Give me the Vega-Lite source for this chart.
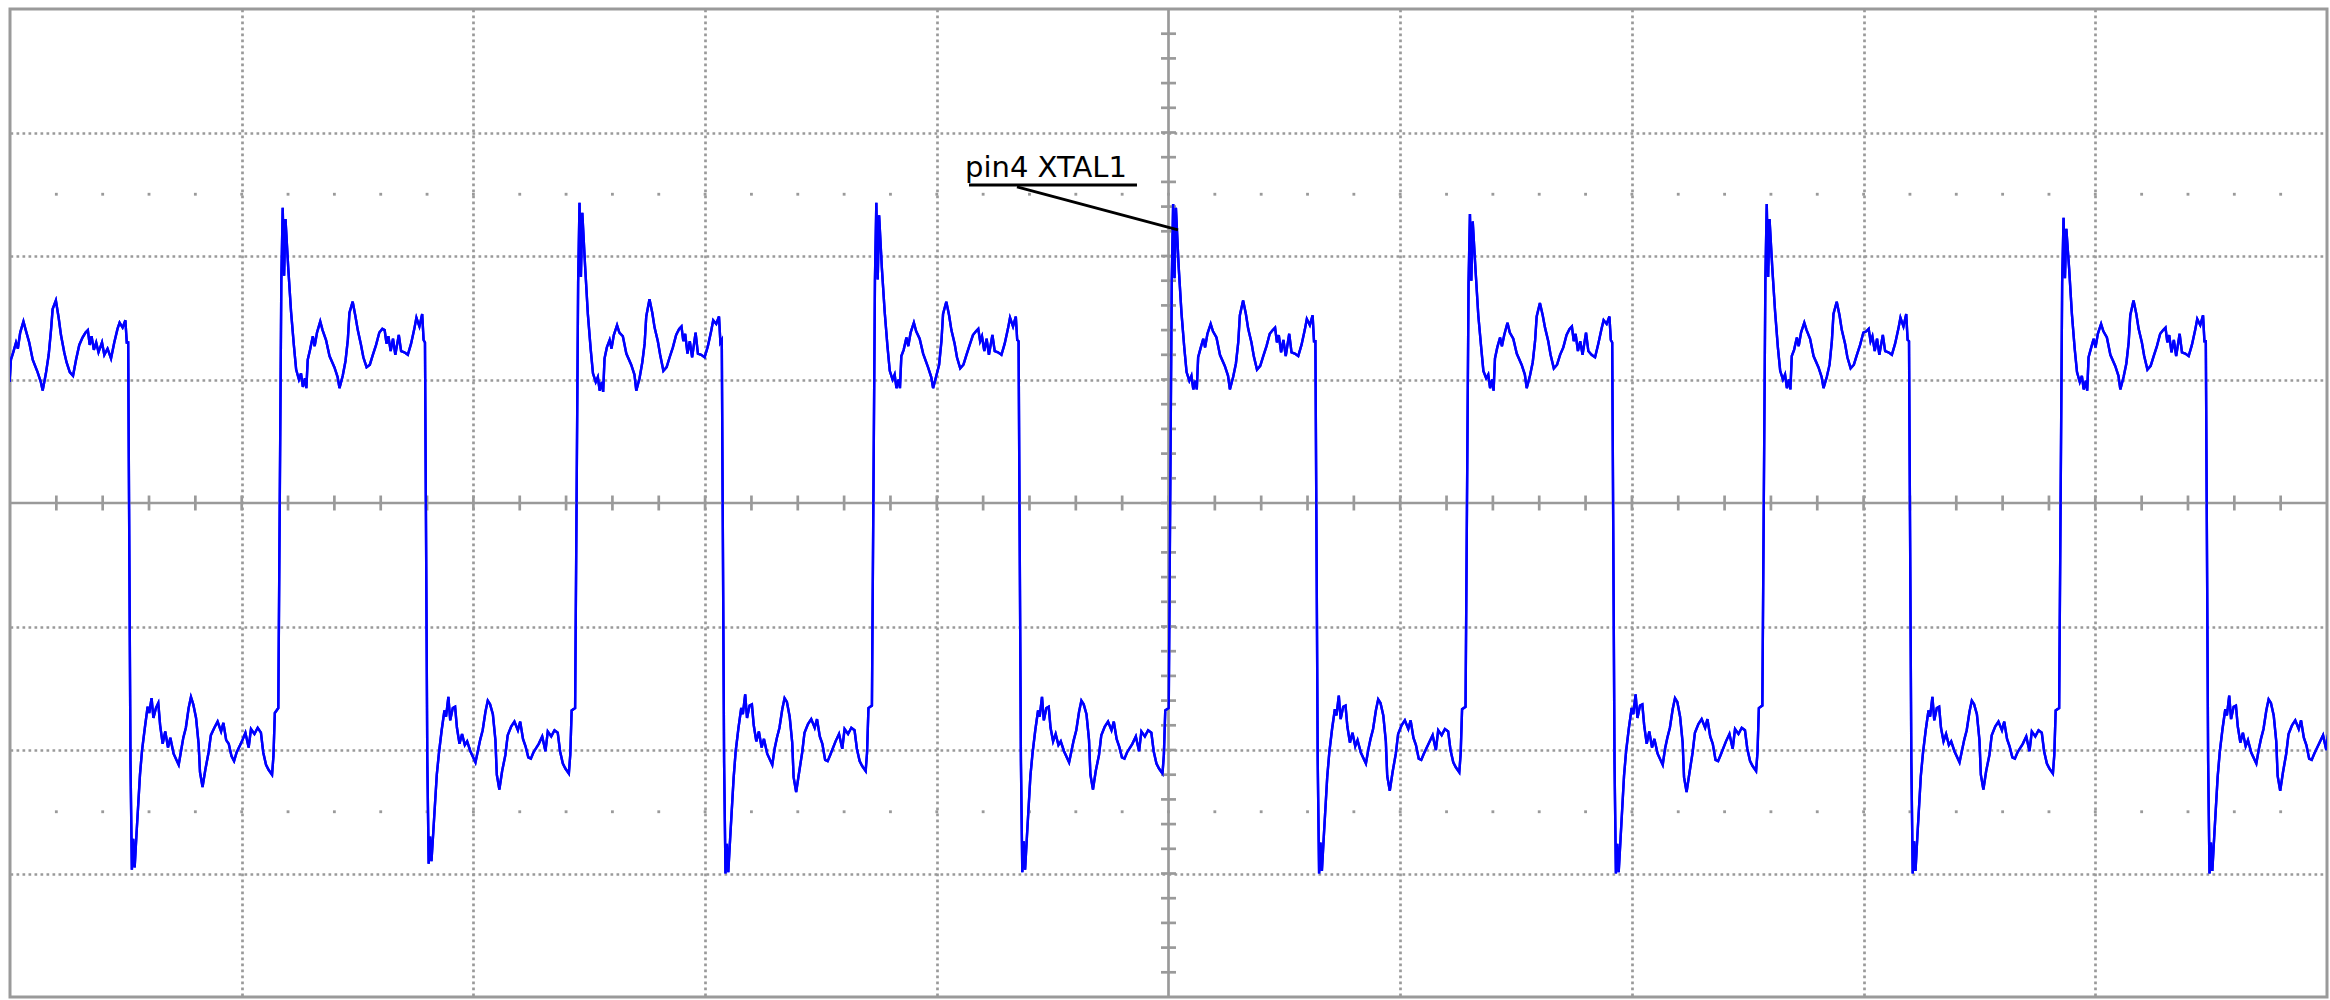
{
"$schema": "https://vega.github.io/schema/vega-lite/v6.json",
"width": 2317, "height": 988,
"autosize": {"type": "none"},
"padding": {"left": 10, "top": 9, "right": 3, "bottom": 3},
"background": "white",
"config": {"view": {"stroke": "#9a9a9a", "strokeWidth": 3}},
"datasets": {
"ticks": [{"v":-4.8},{"v":-4.6},{"v":-4.4},{"v":-4.2},{"v":-4},{"v":-3.8},{"v":-3.6},{"v":-3.4},{"v":-3.2},{"v":-3},{"v":-2.8},{"v":-2.6},{"v":-2.4},{"v":-2.2},{"v":-2},{"v":-1.8},{"v":-1.6},{"v":-1.4},{"v":-1.2},{"v":-1},{"v":-0.8},{"v":-0.6},{"v":-0.4},{"v":-0.2},{"v":0},{"v":0.2},{"v":0.4},{"v":0.6},{"v":0.8},{"v":1},{"v":1.2},{"v":1.4},{"v":1.6},{"v":1.8},{"v":2},{"v":2.2},{"v":2.4},{"v":2.6},{"v":2.8},{"v":3},{"v":3.2},{"v":3.4},{"v":3.6},{"v":3.8},{"v":4},{"v":4.2},{"v":4.4},{"v":4.6},{"v":4.8}],
"label": [{"x":-0.878,"y":2.642,"t":"pin4 XTAL1"}],
"leader": [{"x":-0.861,"y":2.575,"x2":-0.136,"y2":2.575},{"x":-0.654,"y":2.559,"x2":0.041,"y2":2.211}],
"wave": [
{"x":-5.017,"y":0.95},{"x":-5.008,"y":1.12},{"x":-5.002,"y":0.98},{"x":-4.996,"y":1.16},{"x":-4.986,"y":1.22},{"x":-4.974,"y":1.30},{"x":-4.966,"y":1.25},{"x":-4.956,"y":1.38},{"x":-4.942,"y":1.47},{"x":-4.932,"y":1.40},{"x":-4.917,"y":1.30},{"x":-4.902,"y":1.16},{"x":-4.881,"y":1.06},{"x":-4.867,"y":0.98},{"x":-4.859,"y":0.91},{"x":-4.845,"y":1.05},{"x":-4.833,"y":1.20},{"x":-4.823,"y":1.40},{"x":-4.816,"y":1.57},{"x":-4.802,"y":1.64},{"x":-4.790,"y":1.50},{"x":-4.780,"y":1.36},{"x":-4.766,"y":1.22},{"x":-4.756,"y":1.14},{"x":-4.742,"y":1.06},{"x":-4.728,"y":1.03},{"x":-4.715,"y":1.16},{"x":-4.701,"y":1.28},{"x":-4.687,"y":1.34},{"x":-4.674,"y":1.38},{"x":-4.664,"y":1.40},{"x":-4.656,"y":1.28},{"x":-4.648,"y":1.35},{"x":-4.638,"y":1.24},{"x":-4.628,"y":1.30},{"x":-4.618,"y":1.22},{"x":-4.603,"y":1.30},{"x":-4.593,"y":1.20},{"x":-4.579,"y":1.25},{"x":-4.564,"y":1.17},{"x":-4.550,"y":1.30},{"x":-4.536,"y":1.41},{"x":-4.527,"y":1.46},{"x":-4.514,"y":1.42},{"x":-4.502,"y":1.48},{"x":-4.496,"y":1.30},{"x":-4.490,"y":1.30},
{"x":-4.480,"y":-2.09},{"x":-4.474,"y":-2.97},{"x":-4.468,"y":-2.72},{"x":-4.462,"y":-2.95},{"x":-4.454,"y":-2.68},{"x":-4.439,"y":-2.20},{"x":-4.430,"y":-2.00},{"x":-4.418,"y":-1.82},{"x":-4.406,"y":-1.65},{"x":-4.399,"y":-1.70},{"x":-4.389,"y":-1.58},{"x":-4.381,"y":-1.74},{"x":-4.370,"y":-1.66},{"x":-4.360,"y":-1.62},{"x":-4.352,"y":-1.80},{"x":-4.341,"y":-1.95},{"x":-4.330,"y":-1.85},{"x":-4.318,"y":-1.98},{"x":-4.308,"y":-1.90},{"x":-4.294,"y":-2.03},{"x":-4.272,"y":-2.12},{"x":-4.262,"y":-2.01},{"x":-4.252,"y":-1.90},{"x":-4.241,"y":-1.82},{"x":-4.229,"y":-1.66},{"x":-4.219,"y":-1.57},{"x":-4.209,"y":-1.63},{"x":-4.197,"y":-1.74},{"x":-4.186,"y":-1.95},{"x":-4.180,"y":-2.18},{"x":-4.169,"y":-2.30},{"x":-4.157,"y":-2.16},{"x":-4.143,"y":-2.02},{"x":-4.133,"y":-1.88},{"x":-4.118,"y":-1.82},{"x":-4.104,"y":-1.77},{"x":-4.089,"y":-1.85},{"x":-4.079,"y":-1.78},{"x":-4.067,"y":-1.92},{"x":-4.056,"y":-1.95},{"x":-4.044,"y":-2.05},{"x":-4.033,"y":-2.09},{"x":-4.022,"y":-2.02},{"x":-3.999,"y":-1.93},{"x":-3.984,"y":-1.86},{"x":-3.970,"y":-1.98},{"x":-3.960,"y":-1.83},{"x":-3.945,"y":-1.87},{"x":-3.931,"y":-1.82},{"x":-3.917,"y":-1.86},{"x":-3.907,"y":-2.02},{"x":-3.895,"y":-2.12},{"x":-3.884,"y":-2.16},{"x":-3.869,"y":-2.20},{"x":-3.863,"y":-2.05},{"x":-3.857,"y":-1.70},{"x":-3.842,"y":-1.66},
{"x":-3.829,"y":1.80},{"x":-3.823,"y":2.39},{"x":-3.817,"y":1.84},{"x":-3.811,"y":2.30},{"x":-3.799,"y":1.90},{"x":-3.787,"y":1.55},{"x":-3.775,"y":1.28},{"x":-3.765,"y":1.08},{"x":-3.753,"y":1.00},{"x":-3.744,"y":1.05},{"x":-3.736,"y":0.94},{"x":-3.727,"y":1.01},{"x":-3.721,"y":0.93},{"x":-3.715,"y":1.16},{"x":-3.705,"y":1.24},{"x":-3.693,"y":1.35},{"x":-3.685,"y":1.27},{"x":-3.675,"y":1.38},{"x":-3.661,"y":1.47},{"x":-3.651,"y":1.40},{"x":-3.636,"y":1.32},{"x":-3.621,"y":1.19},{"x":-3.600,"y":1.10},{"x":-3.586,"y":1.02},{"x":-3.578,"y":0.93},{"x":-3.564,"y":1.03},{"x":-3.552,"y":1.15},{"x":-3.542,"y":1.32},{"x":-3.535,"y":1.54},{"x":-3.521,"y":1.63},{"x":-3.509,"y":1.51},{"x":-3.499,"y":1.40},{"x":-3.485,"y":1.28},{"x":-3.475,"y":1.18},{"x":-3.461,"y":1.10},{"x":-3.447,"y":1.12},{"x":-3.434,"y":1.20},{"x":-3.420,"y":1.28},{"x":-3.406,"y":1.38},{"x":-3.393,"y":1.41},{"x":-3.383,"y":1.40},{"x":-3.375,"y":1.29},{"x":-3.367,"y":1.35},{"x":-3.357,"y":1.23},{"x":-3.347,"y":1.33},{"x":-3.337,"y":1.20},{"x":-3.322,"y":1.36},{"x":-3.312,"y":1.23},{"x":-3.298,"y":1.22},{"x":-3.283,"y":1.20},{"x":-3.269,"y":1.29},{"x":-3.255,"y":1.41},{"x":-3.246,"y":1.50},{"x":-3.233,"y":1.43},{"x":-3.221,"y":1.53},{"x":-3.215,"y":1.32},{"x":-3.209,"y":1.30},
{"x":-3.199,"y":-2.07},{"x":-3.193,"y":-2.92},{"x":-3.187,"y":-2.70},{"x":-3.181,"y":-2.90},{"x":-3.173,"y":-2.66},{"x":-3.158,"y":-2.20},{"x":-3.149,"y":-2.03},{"x":-3.137,"y":-1.84},{"x":-3.125,"y":-1.68},{"x":-3.118,"y":-1.73},{"x":-3.108,"y":-1.57},{"x":-3.100,"y":-1.76},{"x":-3.089,"y":-1.66},{"x":-3.079,"y":-1.65},{"x":-3.071,"y":-1.82},{"x":-3.060,"y":-1.95},{"x":-3.049,"y":-1.87},{"x":-3.037,"y":-1.96},{"x":-3.027,"y":-1.93},{"x":-3.013,"y":-2.01},{"x":-2.991,"y":-2.10},{"x":-2.981,"y":-2.01},{"x":-2.971,"y":-1.92},{"x":-2.960,"y":-1.84},{"x":-2.948,"y":-1.69},{"x":-2.938,"y":-1.60},{"x":-2.928,"y":-1.63},{"x":-2.916,"y":-1.71},{"x":-2.905,"y":-1.92},{"x":-2.899,"y":-2.20},{"x":-2.888,"y":-2.32},{"x":-2.876,"y":-2.17},{"x":-2.862,"y":-2.04},{"x":-2.852,"y":-1.88},{"x":-2.837,"y":-1.81},{"x":-2.823,"y":-1.77},{"x":-2.808,"y":-1.84},{"x":-2.798,"y":-1.77},{"x":-2.786,"y":-1.91},{"x":-2.775,"y":-1.97},{"x":-2.763,"y":-2.06},{"x":-2.752,"y":-2.07},{"x":-2.741,"y":-2.02},{"x":-2.718,"y":-1.95},{"x":-2.703,"y":-1.89},{"x":-2.689,"y":-2.01},{"x":-2.679,"y":-1.85},{"x":-2.664,"y":-1.89},{"x":-2.650,"y":-1.84},{"x":-2.636,"y":-1.86},{"x":-2.626,"y":-2.01},{"x":-2.614,"y":-2.11},{"x":-2.603,"y":-2.15},{"x":-2.588,"y":-2.19},{"x":-2.582,"y":-2.04},{"x":-2.576,"y":-1.68},{"x":-2.561,"y":-1.66},
{"x":-2.548,"y":1.78},{"x":-2.542,"y":2.43},{"x":-2.536,"y":1.83},{"x":-2.530,"y":2.35},{"x":-2.518,"y":1.92},{"x":-2.506,"y":1.53},{"x":-2.494,"y":1.25},{"x":-2.484,"y":1.05},{"x":-2.472,"y":0.98},{"x":-2.463,"y":1.02},{"x":-2.455,"y":0.91},{"x":-2.446,"y":0.98},{"x":-2.440,"y":0.90},{"x":-2.434,"y":1.17},{"x":-2.424,"y":1.26},{"x":-2.412,"y":1.32},{"x":-2.404,"y":1.25},{"x":-2.394,"y":1.36},{"x":-2.380,"y":1.44},{"x":-2.370,"y":1.38},{"x":-2.355,"y":1.35},{"x":-2.340,"y":1.21},{"x":-2.319,"y":1.12},{"x":-2.305,"y":1.04},{"x":-2.297,"y":0.91},{"x":-2.283,"y":1.01},{"x":-2.271,"y":1.14},{"x":-2.261,"y":1.29},{"x":-2.254,"y":1.51},{"x":-2.240,"y":1.65},{"x":-2.228,"y":1.54},{"x":-2.218,"y":1.42},{"x":-2.204,"y":1.31},{"x":-2.194,"y":1.20},{"x":-2.180,"y":1.07},{"x":-2.166,"y":1.10},{"x":-2.153,"y":1.18},{"x":-2.139,"y":1.26},{"x":-2.125,"y":1.36},{"x":-2.112,"y":1.41},{"x":-2.102,"y":1.43},{"x":-2.094,"y":1.31},{"x":-2.086,"y":1.37},{"x":-2.076,"y":1.21},{"x":-2.066,"y":1.31},{"x":-2.056,"y":1.18},{"x":-2.041,"y":1.38},{"x":-2.031,"y":1.21},{"x":-2.017,"y":1.20},{"x":-2.002,"y":1.18},{"x":-1.988,"y":1.27},{"x":-1.974,"y":1.39},{"x":-1.965,"y":1.48},{"x":-1.952,"y":1.45},{"x":-1.940,"y":1.51},{"x":-1.934,"y":1.30},{"x":-1.928,"y":1.32},
{"x":-1.918,"y":-2.10},{"x":-1.912,"y":-3.00},{"x":-1.906,"y":-2.76},{"x":-1.900,"y":-2.99},{"x":-1.892,"y":-2.72},{"x":-1.877,"y":-2.23},{"x":-1.868,"y":-2.01},{"x":-1.856,"y":-1.82},{"x":-1.844,"y":-1.66},{"x":-1.837,"y":-1.71},{"x":-1.827,"y":-1.55},{"x":-1.819,"y":-1.74},{"x":-1.808,"y":-1.64},{"x":-1.798,"y":-1.63},{"x":-1.790,"y":-1.80},{"x":-1.779,"y":-1.93},{"x":-1.768,"y":-1.85},{"x":-1.756,"y":-1.98},{"x":-1.746,"y":-1.91},{"x":-1.732,"y":-2.03},{"x":-1.710,"y":-2.12},{"x":-1.700,"y":-1.99},{"x":-1.690,"y":-1.90},{"x":-1.679,"y":-1.82},{"x":-1.667,"y":-1.67},{"x":-1.657,"y":-1.58},{"x":-1.647,"y":-1.61},{"x":-1.635,"y":-1.73},{"x":-1.624,"y":-1.94},{"x":-1.618,"y":-2.22},{"x":-1.607,"y":-2.34},{"x":-1.595,"y":-2.19},{"x":-1.581,"y":-2.02},{"x":-1.571,"y":-1.86},{"x":-1.556,"y":-1.79},{"x":-1.542,"y":-1.75},{"x":-1.527,"y":-1.82},{"x":-1.517,"y":-1.75},{"x":-1.505,"y":-1.89},{"x":-1.494,"y":-1.95},{"x":-1.482,"y":-2.08},{"x":-1.471,"y":-2.09},{"x":-1.460,"y":-2.04},{"x":-1.437,"y":-1.93},{"x":-1.422,"y":-1.87},{"x":-1.408,"y":-1.99},{"x":-1.398,"y":-1.83},{"x":-1.383,"y":-1.87},{"x":-1.369,"y":-1.82},{"x":-1.355,"y":-1.84},{"x":-1.345,"y":-1.99},{"x":-1.333,"y":-2.09},{"x":-1.322,"y":-2.13},{"x":-1.307,"y":-2.17},{"x":-1.301,"y":-2.02},{"x":-1.295,"y":-1.66},{"x":-1.280,"y":-1.64},
{"x":-1.267,"y":1.80},{"x":-1.261,"y":2.43},{"x":-1.255,"y":1.81},{"x":-1.249,"y":2.33},{"x":-1.237,"y":1.90},{"x":-1.225,"y":1.55},{"x":-1.213,"y":1.27},{"x":-1.203,"y":1.07},{"x":-1.191,"y":1.00},{"x":-1.182,"y":1.04},{"x":-1.174,"y":0.93},{"x":-1.165,"y":1.00},{"x":-1.159,"y":0.93},{"x":-1.153,"y":1.19},{"x":-1.143,"y":1.24},{"x":-1.131,"y":1.34},{"x":-1.123,"y":1.27},{"x":-1.113,"y":1.38},{"x":-1.099,"y":1.46},{"x":-1.089,"y":1.39},{"x":-1.074,"y":1.33},{"x":-1.059,"y":1.21},{"x":-1.038,"y":1.10},{"x":-1.024,"y":1.02},{"x":-1.016,"y":0.93},{"x":-1.002,"y":1.03},{"x":-0.990,"y":1.12},{"x":-0.980,"y":1.31},{"x":-0.973,"y":1.53},{"x":-0.959,"y":1.63},{"x":-0.947,"y":1.52},{"x":-0.937,"y":1.40},{"x":-0.923,"y":1.29},{"x":-0.913,"y":1.18},{"x":-0.899,"y":1.09},{"x":-0.885,"y":1.12},{"x":-0.872,"y":1.20},{"x":-0.858,"y":1.28},{"x":-0.844,"y":1.36},{"x":-0.831,"y":1.39},{"x":-0.821,"y":1.41},{"x":-0.813,"y":1.31},{"x":-0.805,"y":1.35},{"x":-0.795,"y":1.23},{"x":-0.785,"y":1.33},{"x":-0.775,"y":1.20},{"x":-0.760,"y":1.36},{"x":-0.750,"y":1.23},{"x":-0.736,"y":1.22},{"x":-0.721,"y":1.20},{"x":-0.707,"y":1.29},{"x":-0.693,"y":1.41},{"x":-0.684,"y":1.50},{"x":-0.671,"y":1.43},{"x":-0.659,"y":1.51},{"x":-0.653,"y":1.32},{"x":-0.647,"y":1.31},
{"x":-0.637,"y":-2.08},{"x":-0.631,"y":-2.99},{"x":-0.625,"y":-2.74},{"x":-0.619,"y":-2.97},{"x":-0.611,"y":-2.70},{"x":-0.596,"y":-2.21},{"x":-0.587,"y":-2.03},{"x":-0.575,"y":-1.84},{"x":-0.563,"y":-1.68},{"x":-0.556,"y":-1.73},{"x":-0.546,"y":-1.57},{"x":-0.538,"y":-1.76},{"x":-0.527,"y":-1.66},{"x":-0.517,"y":-1.65},{"x":-0.509,"y":-1.82},{"x":-0.498,"y":-1.93},{"x":-0.487,"y":-1.87},{"x":-0.475,"y":-1.96},{"x":-0.465,"y":-1.93},{"x":-0.451,"y":-2.01},{"x":-0.429,"y":-2.10},{"x":-0.419,"y":-2.01},{"x":-0.409,"y":-1.92},{"x":-0.398,"y":-1.84},{"x":-0.386,"y":-1.69},{"x":-0.376,"y":-1.60},{"x":-0.366,"y":-1.63},{"x":-0.354,"y":-1.71},{"x":-0.343,"y":-1.92},{"x":-0.337,"y":-2.20},{"x":-0.326,"y":-2.32},{"x":-0.314,"y":-2.17},{"x":-0.300,"y":-2.04},{"x":-0.290,"y":-1.88},{"x":-0.275,"y":-1.81},{"x":-0.261,"y":-1.77},{"x":-0.246,"y":-1.84},{"x":-0.236,"y":-1.77},{"x":-0.224,"y":-1.91},{"x":-0.213,"y":-1.97},{"x":-0.201,"y":-2.06},{"x":-0.190,"y":-2.07},{"x":-0.179,"y":-2.02},{"x":-0.156,"y":-1.95},{"x":-0.141,"y":-1.89},{"x":-0.127,"y":-2.01},{"x":-0.117,"y":-1.85},{"x":-0.102,"y":-1.89},{"x":-0.088,"y":-1.84},{"x":-0.074,"y":-1.86},{"x":-0.064,"y":-2.01},{"x":-0.052,"y":-2.11},{"x":-0.041,"y":-2.15},{"x":-0.026,"y":-2.19},{"x":-0.020,"y":-2.04},{"x":-0.014,"y":-1.68},{"x":0.001,"y":-1.66},
{"x":0.014,"y":1.79},{"x":0.020,"y":2.42},{"x":0.026,"y":1.82},{"x":0.032,"y":2.39},{"x":0.044,"y":1.91},{"x":0.056,"y":1.54},{"x":0.068,"y":1.26},{"x":0.078,"y":1.06},{"x":0.090,"y":0.99},{"x":0.099,"y":1.03},{"x":0.107,"y":0.92},{"x":0.116,"y":0.99},{"x":0.122,"y":0.92},{"x":0.128,"y":1.18},{"x":0.138,"y":1.25},{"x":0.150,"y":1.33},{"x":0.158,"y":1.26},{"x":0.168,"y":1.37},{"x":0.182,"y":1.45},{"x":0.192,"y":1.39},{"x":0.207,"y":1.34},{"x":0.222,"y":1.20},{"x":0.243,"y":1.11},{"x":0.257,"y":1.03},{"x":0.265,"y":0.92},{"x":0.279,"y":1.02},{"x":0.291,"y":1.13},{"x":0.301,"y":1.30},{"x":0.308,"y":1.52},{"x":0.322,"y":1.64},{"x":0.334,"y":1.53},{"x":0.344,"y":1.41},{"x":0.358,"y":1.30},{"x":0.368,"y":1.19},{"x":0.382,"y":1.08},{"x":0.396,"y":1.11},{"x":0.409,"y":1.19},{"x":0.423,"y":1.27},{"x":0.437,"y":1.37},{"x":0.450,"y":1.40},{"x":0.460,"y":1.42},{"x":0.468,"y":1.30},{"x":0.476,"y":1.36},{"x":0.486,"y":1.22},{"x":0.496,"y":1.32},{"x":0.506,"y":1.19},{"x":0.521,"y":1.37},{"x":0.531,"y":1.22},{"x":0.545,"y":1.21},{"x":0.560,"y":1.19},{"x":0.574,"y":1.28},{"x":0.588,"y":1.40},{"x":0.597,"y":1.49},{"x":0.610,"y":1.44},{"x":0.622,"y":1.52},{"x":0.628,"y":1.31},{"x":0.634,"y":1.31},
{"x":0.644,"y":-2.09},{"x":0.650,"y":-3.00},{"x":0.656,"y":-2.75},{"x":0.662,"y":-2.98},{"x":0.670,"y":-2.71},{"x":0.685,"y":-2.22},{"x":0.694,"y":-2.02},{"x":0.706,"y":-1.83},{"x":0.718,"y":-1.67},{"x":0.725,"y":-1.72},{"x":0.735,"y":-1.56},{"x":0.743,"y":-1.75},{"x":0.754,"y":-1.65},{"x":0.764,"y":-1.64},{"x":0.772,"y":-1.81},{"x":0.783,"y":-1.94},{"x":0.794,"y":-1.86},{"x":0.806,"y":-1.97},{"x":0.816,"y":-1.92},{"x":0.830,"y":-2.02},{"x":0.852,"y":-2.11},{"x":0.862,"y":-2.00},{"x":0.872,"y":-1.91},{"x":0.883,"y":-1.83},{"x":0.895,"y":-1.68},{"x":0.905,"y":-1.59},{"x":0.915,"y":-1.62},{"x":0.927,"y":-1.72},{"x":0.938,"y":-1.93},{"x":0.944,"y":-2.21},{"x":0.955,"y":-2.33},{"x":0.967,"y":-2.18},{"x":0.981,"y":-2.03},{"x":0.991,"y":-1.87},{"x":1.006,"y":-1.80},{"x":1.020,"y":-1.76},{"x":1.035,"y":-1.83},{"x":1.045,"y":-1.76},{"x":1.057,"y":-1.90},{"x":1.068,"y":-1.96},{"x":1.080,"y":-2.07},{"x":1.091,"y":-2.08},{"x":1.102,"y":-2.03},{"x":1.125,"y":-1.94},{"x":1.140,"y":-1.88},{"x":1.154,"y":-2.00},{"x":1.164,"y":-1.84},{"x":1.179,"y":-1.88},{"x":1.193,"y":-1.83},{"x":1.207,"y":-1.85},{"x":1.217,"y":-2.00},{"x":1.229,"y":-2.10},{"x":1.240,"y":-2.14},{"x":1.255,"y":-2.18},{"x":1.261,"y":-2.03},{"x":1.267,"y":-1.67},{"x":1.282,"y":-1.65},
{"x":1.295,"y":1.78},{"x":1.301,"y":2.34},{"x":1.307,"y":1.80},{"x":1.313,"y":2.28},{"x":1.325,"y":1.89},{"x":1.337,"y":1.52},{"x":1.349,"y":1.27},{"x":1.359,"y":1.07},{"x":1.371,"y":1.01},{"x":1.380,"y":1.04},{"x":1.388,"y":0.93},{"x":1.397,"y":1.00},{"x":1.403,"y":0.91},{"x":1.409,"y":1.17},{"x":1.419,"y":1.26},{"x":1.431,"y":1.34},{"x":1.439,"y":1.27},{"x":1.449,"y":1.36},{"x":1.463,"y":1.46},{"x":1.473,"y":1.38},{"x":1.488,"y":1.33},{"x":1.503,"y":1.21},{"x":1.524,"y":1.12},{"x":1.538,"y":1.04},{"x":1.546,"y":0.93},{"x":1.560,"y":1.03},{"x":1.572,"y":1.14},{"x":1.582,"y":1.31},{"x":1.589,"y":1.51},{"x":1.603,"y":1.62},{"x":1.615,"y":1.52},{"x":1.625,"y":1.42},{"x":1.639,"y":1.31},{"x":1.649,"y":1.20},{"x":1.663,"y":1.09},{"x":1.677,"y":1.12},{"x":1.690,"y":1.20},{"x":1.704,"y":1.26},{"x":1.718,"y":1.36},{"x":1.731,"y":1.41},{"x":1.741,"y":1.43},{"x":1.749,"y":1.31},{"x":1.757,"y":1.37},{"x":1.767,"y":1.23},{"x":1.777,"y":1.31},{"x":1.787,"y":1.20},{"x":1.802,"y":1.38},{"x":1.812,"y":1.23},{"x":1.826,"y":1.20},{"x":1.841,"y":1.18},{"x":1.855,"y":1.29},{"x":1.869,"y":1.41},{"x":1.878,"y":1.48},{"x":1.891,"y":1.45},{"x":1.903,"y":1.51},{"x":1.909,"y":1.32},{"x":1.915,"y":1.30},
{"x":1.925,"y":-2.10},{"x":1.931,"y":-3.00},{"x":1.937,"y":-2.76},{"x":1.943,"y":-2.99},{"x":1.951,"y":-2.72},{"x":1.966,"y":-2.21},{"x":1.975,"y":-2.01},{"x":1.987,"y":-1.82},{"x":1.999,"y":-1.66},{"x":2.006,"y":-1.71},{"x":2.016,"y":-1.55},{"x":2.024,"y":-1.74},{"x":2.035,"y":-1.64},{"x":2.045,"y":-1.63},{"x":2.053,"y":-1.80},{"x":2.064,"y":-1.95},{"x":2.075,"y":-1.85},{"x":2.087,"y":-1.98},{"x":2.097,"y":-1.91},{"x":2.111,"y":-2.03},{"x":2.133,"y":-2.12},{"x":2.143,"y":-1.99},{"x":2.153,"y":-1.90},{"x":2.164,"y":-1.82},{"x":2.176,"y":-1.67},{"x":2.186,"y":-1.58},{"x":2.196,"y":-1.61},{"x":2.208,"y":-1.73},{"x":2.219,"y":-1.94},{"x":2.225,"y":-2.22},{"x":2.236,"y":-2.34},{"x":2.248,"y":-2.19},{"x":2.262,"y":-2.02},{"x":2.272,"y":-1.86},{"x":2.287,"y":-1.79},{"x":2.301,"y":-1.75},{"x":2.316,"y":-1.82},{"x":2.326,"y":-1.75},{"x":2.338,"y":-1.89},{"x":2.349,"y":-1.95},{"x":2.361,"y":-2.08},{"x":2.372,"y":-2.09},{"x":2.383,"y":-2.04},{"x":2.406,"y":-1.93},{"x":2.421,"y":-1.87},{"x":2.435,"y":-1.99},{"x":2.445,"y":-1.83},{"x":2.460,"y":-1.87},{"x":2.474,"y":-1.82},{"x":2.488,"y":-1.84},{"x":2.498,"y":-1.99},{"x":2.510,"y":-2.09},{"x":2.521,"y":-2.13},{"x":2.536,"y":-2.17},{"x":2.542,"y":-2.02},{"x":2.548,"y":-1.66},{"x":2.563,"y":-1.64},
{"x":2.576,"y":1.80},{"x":2.582,"y":2.42},{"x":2.588,"y":1.83},{"x":2.594,"y":2.30},{"x":2.606,"y":1.90},{"x":2.618,"y":1.55},{"x":2.630,"y":1.26},{"x":2.640,"y":1.07},{"x":2.652,"y":1.00},{"x":2.661,"y":1.04},{"x":2.669,"y":0.93},{"x":2.678,"y":1.00},{"x":2.684,"y":0.92},{"x":2.690,"y":1.19},{"x":2.700,"y":1.24},{"x":2.712,"y":1.34},{"x":2.720,"y":1.27},{"x":2.730,"y":1.38},{"x":2.744,"y":1.46},{"x":2.754,"y":1.40},{"x":2.769,"y":1.33},{"x":2.784,"y":1.19},{"x":2.805,"y":1.10},{"x":2.819,"y":1.02},{"x":2.827,"y":0.93},{"x":2.841,"y":1.02},{"x":2.853,"y":1.12},{"x":2.863,"y":1.31},{"x":2.870,"y":1.53},{"x":2.884,"y":1.63},{"x":2.896,"y":1.52},{"x":2.906,"y":1.40},{"x":2.920,"y":1.29},{"x":2.930,"y":1.18},{"x":2.944,"y":1.09},{"x":2.958,"y":1.12},{"x":2.971,"y":1.20},{"x":2.985,"y":1.28},{"x":2.999,"y":1.38},{"x":3.012,"y":1.39},{"x":3.022,"y":1.41},{"x":3.030,"y":1.31},{"x":3.038,"y":1.35},{"x":3.048,"y":1.23},{"x":3.058,"y":1.33},{"x":3.068,"y":1.20},{"x":3.083,"y":1.36},{"x":3.093,"y":1.23},{"x":3.107,"y":1.22},{"x":3.122,"y":1.20},{"x":3.136,"y":1.29},{"x":3.150,"y":1.41},{"x":3.159,"y":1.50},{"x":3.172,"y":1.43},{"x":3.184,"y":1.53},{"x":3.190,"y":1.32},{"x":3.196,"y":1.31},
{"x":3.206,"y":-2.08},{"x":3.212,"y":-3.00},{"x":3.218,"y":-2.74},{"x":3.224,"y":-2.98},{"x":3.232,"y":-2.70},{"x":3.247,"y":-2.21},{"x":3.256,"y":-2.03},{"x":3.268,"y":-1.84},{"x":3.280,"y":-1.68},{"x":3.287,"y":-1.73},{"x":3.297,"y":-1.57},{"x":3.305,"y":-1.76},{"x":3.316,"y":-1.66},{"x":3.326,"y":-1.65},{"x":3.334,"y":-1.82},{"x":3.345,"y":-1.93},{"x":3.356,"y":-1.87},{"x":3.368,"y":-1.96},{"x":3.378,"y":-1.93},{"x":3.392,"y":-2.01},{"x":3.414,"y":-2.10},{"x":3.424,"y":-2.01},{"x":3.434,"y":-1.92},{"x":3.445,"y":-1.84},{"x":3.457,"y":-1.69},{"x":3.467,"y":-1.60},{"x":3.477,"y":-1.63},{"x":3.489,"y":-1.71},{"x":3.500,"y":-1.92},{"x":3.506,"y":-2.20},{"x":3.517,"y":-2.32},{"x":3.529,"y":-2.17},{"x":3.543,"y":-2.04},{"x":3.553,"y":-1.88},{"x":3.568,"y":-1.81},{"x":3.582,"y":-1.77},{"x":3.597,"y":-1.84},{"x":3.607,"y":-1.77},{"x":3.619,"y":-1.91},{"x":3.630,"y":-1.97},{"x":3.642,"y":-2.06},{"x":3.653,"y":-2.07},{"x":3.664,"y":-2.02},{"x":3.687,"y":-1.95},{"x":3.702,"y":-1.89},{"x":3.716,"y":-2.01},{"x":3.726,"y":-1.85},{"x":3.741,"y":-1.89},{"x":3.755,"y":-1.84},{"x":3.769,"y":-1.86},{"x":3.779,"y":-2.01},{"x":3.791,"y":-2.11},{"x":3.802,"y":-2.15},{"x":3.817,"y":-2.19},{"x":3.823,"y":-2.04},{"x":3.829,"y":-1.68},{"x":3.844,"y":-1.66},
{"x":3.857,"y":1.79},{"x":3.863,"y":2.31},{"x":3.869,"y":1.82},{"x":3.875,"y":2.22},{"x":3.887,"y":1.90},{"x":3.899,"y":1.53},{"x":3.911,"y":1.25},{"x":3.921,"y":1.06},{"x":3.933,"y":0.98},{"x":3.942,"y":1.03},{"x":3.950,"y":0.92},{"x":3.959,"y":0.99},{"x":3.965,"y":0.91},{"x":3.971,"y":1.18},{"x":3.981,"y":1.25},{"x":3.993,"y":1.33},{"x":4.001,"y":1.26},{"x":4.011,"y":1.37},{"x":4.025,"y":1.45},{"x":4.035,"y":1.39},{"x":4.050,"y":1.34},{"x":4.065,"y":1.20},{"x":4.086,"y":1.11},{"x":4.100,"y":1.03},{"x":4.108,"y":0.92},{"x":4.122,"y":1.02},{"x":4.134,"y":1.13},{"x":4.144,"y":1.30},{"x":4.151,"y":1.52},{"x":4.165,"y":1.64},{"x":4.177,"y":1.53},{"x":4.187,"y":1.41},{"x":4.201,"y":1.30},{"x":4.211,"y":1.19},{"x":4.225,"y":1.08},{"x":4.239,"y":1.11},{"x":4.252,"y":1.19},{"x":4.266,"y":1.27},{"x":4.280,"y":1.37},{"x":4.293,"y":1.40},{"x":4.303,"y":1.42},{"x":4.311,"y":1.30},{"x":4.319,"y":1.36},{"x":4.329,"y":1.22},{"x":4.339,"y":1.32},{"x":4.349,"y":1.19},{"x":4.364,"y":1.37},{"x":4.374,"y":1.22},{"x":4.388,"y":1.21},{"x":4.403,"y":1.19},{"x":4.417,"y":1.28},{"x":4.431,"y":1.40},{"x":4.440,"y":1.49},{"x":4.453,"y":1.44},{"x":4.465,"y":1.52},{"x":4.471,"y":1.31},{"x":4.477,"y":1.31},
{"x":4.487,"y":-2.09},{"x":4.493,"y":-3.00},{"x":4.499,"y":-2.75},{"x":4.505,"y":-2.98},{"x":4.513,"y":-2.71},{"x":4.528,"y":-2.22},{"x":4.537,"y":-2.02},{"x":4.549,"y":-1.83},{"x":4.561,"y":-1.67},{"x":4.568,"y":-1.72},{"x":4.578,"y":-1.56},{"x":4.586,"y":-1.75},{"x":4.597,"y":-1.65},{"x":4.607,"y":-1.64},{"x":4.615,"y":-1.81},{"x":4.626,"y":-1.94},{"x":4.637,"y":-1.86},{"x":4.649,"y":-1.97},{"x":4.659,"y":-1.92},{"x":4.673,"y":-2.02},{"x":4.695,"y":-2.11},{"x":4.705,"y":-2.00},{"x":4.715,"y":-1.91},{"x":4.726,"y":-1.83},{"x":4.738,"y":-1.68},{"x":4.748,"y":-1.59},{"x":4.758,"y":-1.62},{"x":4.770,"y":-1.72},{"x":4.781,"y":-1.93},{"x":4.787,"y":-2.21},{"x":4.798,"y":-2.33},{"x":4.810,"y":-2.18},{"x":4.824,"y":-2.03},{"x":4.834,"y":-1.87},{"x":4.849,"y":-1.80},{"x":4.863,"y":-1.76},{"x":4.878,"y":-1.83},{"x":4.888,"y":-1.76},{"x":4.900,"y":-1.90},{"x":4.911,"y":-1.96},{"x":4.923,"y":-2.07},{"x":4.934,"y":-2.08},{"x":4.945,"y":-2.03},{"x":4.968,"y":-1.94},{"x":4.983,"y":-1.88},{"x":4.997,"y":-2.00},{"x":5.007,"y":-1.84}
]
},
"layer": [
{
"data": {"name": "wave"},
"mark": {"type": "line", "color": "#0000ff", "strokeWidth": 2.4, "clip": true, "interpolate": "linear"},
"encoding": {
"x": {"field": "x", "type": "quantitative", "scale": {"domain": [-5, 5], "nice": false, "zero": false},
 "axis": {"values": [-4, -3, -2, -1, 1, 2, 3, 4], "grid": true, "gridColor": "#9a9a9a", "gridDash": [2.7, 3.3], "gridWidth": 2.7, "gridOpacity": 1, "ticks": false, "labels": false, "domain": false, "title": null}},
"y": {"field": "y", "type": "quantitative", "scale": {"domain": [-4, 4], "nice": false, "zero": false},
 "axis": {"values": [-3, -2, -1, 1, 2, 3], "grid": true, "gridColor": "#9a9a9a", "gridDash": [2.7, 3.3], "gridWidth": 2.7, "gridOpacity": 1, "ticks": false, "labels": false, "domain": false, "title": null}}
}
},
{
"data": {"values": [{}]},
"mark": {"type": "rule", "color": "#9a9a9a", "strokeWidth": 2.7},
"encoding": {"x": {"datum": 0, "type": "quantitative"}}
},
{
"data": {"values": [{}]},
"mark": {"type": "rule", "color": "#9a9a9a", "strokeWidth": 2.7},
"encoding": {"y": {"datum": 0, "type": "quantitative"}}
},
{
"data": {"name": "ticks"},
"transform": [{"filter": "abs(datum.v) < 4"}],
"mark": {"type": "rule", "color": "#9a9a9a", "strokeWidth": 2.7},
"encoding": {
"y": {"field": "v", "type": "quantitative", "scale": {"domain": [-4, 4], "nice": false, "zero": false}},
"x": {"datum": -0.0324, "type": "quantitative"},
"x2": {"datum": 0.0324}
}
},
{
"data": {"name": "ticks"},
"mark": {"type": "rule", "color": "#9a9a9a", "strokeWidth": 2.7},
"encoding": {
"x": {"field": "v", "type": "quantitative", "scale": {"domain": [-5, 5], "nice": false, "zero": false}},
"y": {"datum": -0.0607, "type": "quantitative"},
"y2": {"datum": 0.0607}
}
},
{
"data": {"name": "ticks"},
"mark": {"type": "square", "color": "#9a9a9a", "size": 8, "opacity": 1, "filled": true},
"encoding": {
"x": {"field": "v", "type": "quantitative", "scale": {"domain": [-5, 5], "nice": false, "zero": false}},
"y": {"datum": 2.5, "type": "quantitative"}
}
},
{
"data": {"name": "ticks"},
"mark": {"type": "square", "color": "#9a9a9a", "size": 8, "opacity": 1, "filled": true},
"encoding": {
"x": {"field": "v", "type": "quantitative", "scale": {"domain": [-5, 5], "nice": false, "zero": false}},
"y": {"datum": -2.5, "type": "quantitative"}
}
},
{
"data": {"name": "wave"},
"mark": {"type": "line", "color": "#0000ff", "strokeWidth": 2.4, "clip": true, "interpolate": "linear"},
"encoding": {
"x": {"field": "x", "type": "quantitative", "scale": {"domain": [-5, 5], "nice": false, "zero": false}},
"y": {"field": "y", "type": "quantitative", "scale": {"domain": [-4, 4], "nice": false, "zero": false}}
}
},
{
"data": {"name": "leader"},
"mark": {"type": "rule", "color": "#000000", "strokeWidth": 2.8},
"encoding": {
"x": {"field": "x", "type": "quantitative", "scale": {"domain": [-5, 5], "nice": false, "zero": false}},
"y": {"field": "y", "type": "quantitative", "scale": {"domain": [-4, 4], "nice": false, "zero": false}},
"x2": {"field": "x2"},
"y2": {"field": "y2"}
}
},
{
"data": {"name": "label"},
"mark": {"type": "text", "color": "#000000", "font": "DejaVu Sans", "fontSize": 29, "align": "left", "baseline": "alphabetic"},
"encoding": {
"x": {"field": "x", "type": "quantitative", "scale": {"domain": [-5, 5], "nice": false, "zero": false}},
"y": {"field": "y", "type": "quantitative", "scale": {"domain": [-4, 4], "nice": false, "zero": false}},
"text": {"field": "t"}
}
}
]
}
